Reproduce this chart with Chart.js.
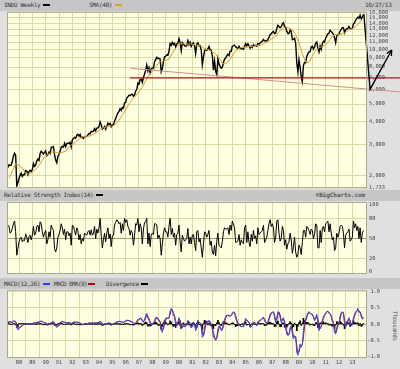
<!DOCTYPE html>
<html>
<head>
<meta charset="utf-8">
<script src="https://cdn.jsdelivr.net/npm/chart.js@4.4.1/dist/chart.umd.min.js"></script>
<style>
  body { margin: 0; width: 400px; height: 369px; background: #e0e0e0; position: relative; overflow: hidden; font-family: "DejaVu Sans Mono", monospace; }
  .band { position: absolute; left: 0; width: 400px; height: 11px; background: #c6c6c6; }
  .txt { position: absolute; font-size: 6px; line-height: 6px; letter-spacing: -0.3px; color: #333; white-space: nowrap; }
  .mark { position: absolute; width: 7px; height: 2px; }
  canvas { position: absolute; left: 0; top: 0; }
</style>
</head>
<body>
<div class="band" style="top:0"></div>
<div class="band" style="top:190px"></div>
<div class="band" style="top:278px"></div>

<div class="txt" style="left:4px;top:2px">INDU Weekly</div>
<div class="mark" style="left:43px;top:4px;background:#000"></div>
<div class="txt" style="left:89px;top:2px">SMA(40)</div>
<div class="mark" style="left:115px;top:4px;background:#e0a020"></div>
<div class="txt" style="left:365px;top:2px">10/27/13</div>

<div class="txt" style="left:4px;top:192px">Relative Strength Index(14)</div>
<div class="mark" style="left:96px;top:194px;background:#000"></div>
<div class="txt" style="right:35px;top:192px;font-weight:bold;letter-spacing:-0.1px;color:#555">©BigCharts.com</div>

<div class="txt" style="left:4px;top:281px">MACD(12,26)</div>
<div class="mark" style="left:43px;top:283px;background:#2040ff"></div>
<div class="txt" style="left:54px;top:281px;letter-spacing:-0.6px">MACD EMA(9)</div>
<div class="mark" style="left:88px;top:283px;background:#c00000"></div>
<div class="txt" style="left:106px;top:281px">Divergence</div>
<div class="mark" style="left:141px;top:283px;background:#000"></div>
<div class="txt" style="left:380px;top:323px;width:30px;text-align:center;transform:rotate(90deg);color:#555">Thousands</div>

<canvas id="price" width="400" height="369"></canvas>
<canvas id="rsi" width="400" height="369"></canvas>
<canvas id="macd" width="400" height="369"></canvas>

<script>
// monthly values, first point = end of Feb 1987
const monthFirst = 1987 + 2 / 12;

// INDU weekly (read as month-end levels, spikes kept at the weekly lows)
const dowClose = [
  2224, 2305, 2286, 2292, 2419, 2572, 2663, 2596, 1760, 1834, 1939,
  2015, 2072, 1988, 2032, 2031, 2142, 2129, 2032, 2112, 2149, 2115, 2169,
  2342, 2258, 2294, 2419, 2480, 2440, 2661, 2737, 2693, 2645, 2706, 2753,
  2591, 2627, 2707, 2657, 2877, 2881, 2905, 2614, 2453, 2365, 2560, 2634,
  2736, 2882, 2914, 2888, 3028, 2907, 3025, 3044, 3017, 3069, 2895, 3169,
  3224, 3268, 3236, 3359, 3397, 3319, 3394, 3257, 3272, 3226, 3305, 3301,
  3310, 3370, 3435, 3428, 3527, 3516, 3540, 3651, 3555, 3681, 3684, 3754,
  3978, 3832, 3636, 3682, 3758, 3625, 3765, 3913, 3843, 3908, 3739, 3834,
  3844, 4011, 4158, 4321, 4465, 4556, 4709, 4611, 4789, 4756, 5075, 5117,
  5395, 5486, 5588, 5569, 5643, 5655, 5529, 5616, 5882, 6029, 6522, 6448,
  6813, 6877, 6584, 7009, 7331, 7673, 8223, 7622, 7945, 7442, 7823, 7908,
  7907, 8546, 8800, 9063, 8900, 8952, 8883, 7539, 7843, 8592, 9117, 9181,
  9359, 9307, 9786, 10789, 10560, 10971, 10655, 10829, 10337, 10729, 10878, 11497,
  10941, 9862, 10922, 10734, 10522, 10448, 10522, 11215, 10651, 10971, 10415, 10787,
  10887, 10495, 9500, 10735, 10912, 10502, 10523, 9950, 8236, 9075, 9852, 10022,
  9920, 10106, 10404, 9946, 9925, 9243, 7702, 8664, 7592, 7286, 8896, 8342,
  8054, 7891, 7992, 8480, 8850, 8985, 9234, 9415, 9275, 9801, 9782, 10454,
  10488, 10584, 10358, 10226, 10188, 10435, 10140, 10174, 10080, 10027, 10428, 10783,
  10490, 10766, 10504, 10193, 10467, 10275, 10641, 10482, 10569, 10440, 10806, 10718,
  10865, 10993, 11109, 11367, 11168, 11150, 11186, 11381, 11679, 12081, 12222, 12463,
  12622, 12269, 12354, 13063, 13628, 13409, 13212, 13358, 13896, 14100, 13372, 13265,
  12650, 12266, 12263, 12820, 12638, 11350, 11378, 11544, 10851, 8451, 7552, 8776,
  8001, 7063, 6626, 8168, 8500, 8447, 9172, 9496, 9712, 9713, 10345, 10428,
  10067, 10325, 10857, 11009, 10137, 9686, 10466, 10015, 10788, 11118, 11006, 11578,
  11892, 12226, 12320, 12811, 12570, 12414, 12143, 11614, 10913, 11955, 12046, 12218,
  12633, 12952, 13212, 13214, 12393, 12880, 13009, 13091, 13437, 13096, 13026, 13104,
  13861, 14054, 14579, 14840, 15116, 14910, 15500, 14810, 15130, 15570
];

// SMA(40), quarter ends from Mar 1987
const smaFirst = 1987.25;
const sma40 = [
  1950, 2120, 2340, 2290,  2210, 2065, 2050, 2090,  2174, 2278, 2449, 2583,
  2656, 2714, 2707, 2673,  2702, 2744, 2908, 2996,  3085, 3195, 3290, 3307,
  3319, 3369, 3463, 3577,  3683, 3718, 3779, 3770,  3864, 4068, 4330, 4656,
  5008, 5307, 5548, 5848,  6196, 6717, 7253, 7556,  7989, 8529, 8634, 8687,
  8856, 9551, 10177, 10703,  10791, 10714, 10758, 10719,  10627, 10523, 10352, 10030,
  9920, 9734, 9456, 9015,  8381, 8348, 8652, 9227,  9838, 10159, 10313, 10284,
  10383, 10401, 10517, 10510,  10690, 10919, 11162, 11581,  11841, 12579, 13047, 13366,
  13179, 12862, 12103, 10900,  9473, 8557, 8494, 9159,  9856, 10237, 10387, 10675,
  11118, 11872, 12048, 12100,  12210, 12442, 12904, 13046,  13414, 14002, 14590
];

// RSI(14), monthly
const rsi14 = [
  70, 68, 58, 60, 65, 72, 76, 60, 25, 35, 45,
  50, 52, 45, 48, 47, 57, 52, 44, 53, 55, 48, 55,
  68, 55, 58, 68, 70, 60, 75, 72, 60, 52, 58, 62,
  42, 48, 60, 52, 70, 65, 62, 35, 30, 36, 52, 56,
  62, 72, 66, 56, 64, 48, 60, 60, 54, 58, 40, 70,
  68, 62, 55, 66, 62, 48, 56, 42, 50, 46, 58, 56,
  55, 60, 62, 55, 63, 55, 57, 68, 50, 64, 58, 66,
  80, 55, 36, 48, 58, 45, 58, 66, 50, 57, 38, 54,
  55, 70, 74, 78, 76, 72, 74, 58, 72, 62, 80, 74,
  78, 68, 65, 55, 62, 58, 40, 55, 72, 70, 80, 60,
  72, 66, 42, 64, 74, 75, 80, 42, 58, 38, 55, 58,
  56, 72, 72, 70, 50, 55, 50, 25, 42, 58, 66, 60,
  60, 52, 68, 80, 56, 65, 52, 58, 40, 56, 58, 70,
  45, 30, 55, 50, 46, 48, 50, 65, 42, 52, 42, 55,
  56, 44, 32, 60, 62, 45, 50, 36, 22, 42, 60, 58,
  52, 56, 62, 40, 46, 30, 26, 40, 24, 46, 58, 40,
  38, 36, 45, 60, 66, 64, 64, 66, 56, 70, 62, 76,
  72, 66, 44, 45, 46, 56, 40, 48, 44, 42, 66, 70,
  44, 60, 44, 38, 56, 46, 62, 50, 54, 42, 66, 56,
  58, 60, 62, 70, 44, 48, 52, 62, 72, 78, 68, 72,
  66, 44, 52, 76, 78, 58, 46, 50, 68, 62, 40, 48,
  34, 42, 45, 58, 48, 28, 38, 52, 30, 22, 26, 40,
  36, 26, 44, 62, 62, 52, 68, 66, 62, 56, 64, 62,
  50, 56, 72, 70, 36, 36, 62, 44, 66, 68, 60, 72,
  74, 76, 60, 72, 58, 48, 52, 32, 36, 58, 52, 58,
  68, 70, 68, 58, 36, 55, 58, 60, 64, 46, 48, 52,
  76, 66, 72, 62, 68, 50, 66, 44, 58, 62
];

// MACD(12,26) in thousands, monthly
const macdLine = [
  .06, .08, .07, .05, .06, .09, .11, .06, -.10, -.18, -.12,
  -.08, -.05, -.03, -.01, .00, .01, .02, .00, .01, .02, .01, .01,
  .04, .04, .03, .05, .07, .06, .08, .10, .08, .04, .03, .04,
  .00, -.02, .01, .00, .05, .07, .08, .01, -.07, -.10, -.06, -.02,
  .02, .08, .09, .06, .06, .04, .04, .05, .04, .04, .00, .04,
  .07, .07, .05, .06, .06, .03, .03, .00, -.01, -.02, .00, .01,
  .01, .02, .04, .03, .04, .04, .03, .05, .03, .04, .05, .06,
  .09, .06, -.02, -.03, .00, -.02, .01, .04, .03, .03, -.02, -.01,
  .00, .03, .05, .07, .08, .08, .09, .06, .06, .05, .09, .10,
  .12, .12, .11, .08, .07, .06, .00, .00, .05, .09, .15, .15,
  .18, .18, .08, .06, .15, .25, .33, .18, .12, .02, -.03, .02,
  .02, .12, .20, .22, .15, .10, .05, -.20, -.25, -.10, .10, .18,
  .20, .16, .20, .40, .48, .42, .28, .22, .00, -.05, .06, .20,
  .08, -.15, -.10, -.02, -.08, -.06, -.02, .12, .06, .00, -.12, -.05,
  .05, .00, -.20, -.10, .10, .05, .02, -.08, -.40, -.35, -.10, .06,
  .10, .05, .12, .05, -.03, -.15, -.40, -.42, -.50, -.40, -.15, -.05,
  -.10, -.20, -.15, .02, .15, .22, .28, .27, .24, .25, .28, .35,
  .38, .35, .18, .08, -.02, -.02, -.06, -.08, -.06, -.08, .06, .18,
  .10, .08, .05, -.10, -.08, -.03, .05, .04, .02, -.05, .08, .10,
  .12, .15, .18, .22, .10, .05, .02, .08, .18, .30, .35, .36,
  .38, .20, .05, .20, .38, .36, .20, .05, .15, .20, .00, -.12,
  -.30, -.35, -.30, -.10, -.05, -.30, -.45, -.35, -.40, -.85, -.95, -.80,
  -.60, -.70, -.60, -.20, .05, .15, .25, .35, .38, .32, .30, .30,
  .20, .10, .20, .30, .05, -.20, -.10, -.05, .10, .25, .28, .35,
  .38, .40, .32, .32, .22, .08, .02, -.25, -.30, -.10, .00, .05,
  .25, .35, .38, .32, -.02, -.10, .05, .12, .20, .05, -.05, .00,
  .20, .30, .38, .40, .48, .35, .38, .22, .15, .20
];

// MACD EMA(9), monthly
const macdSignal = [
  .05, .06, .07, .06, .06, .07, .09, .08, .00, -.10, -.13,
  -.10, -.07, -.05, -.02, -.01, .00, .01, .01, .01, .01, .01, .01,
  .02, .04, .04, .04, .05, .06, .07, .08, .08, .06, .04, .04,
  .02, .00, .00, .00, .02, .05, .07, .04, -.02, -.07, -.07, -.04,
  -.01, .04, .07, .07, .06, .05, .04, .04, .04, .04, .02, .03,
  .05, .06, .06, .06, .06, .04, .03, .02, .00, -.01, -.01, .00,
  .01, .01, .03, .03, .03, .04, .03, .04, .04, .04, .04, .05,
  .07, .07, .02, -.01, -.01, -.01, .00, .02, .03, .03, .01, -.01,
  .00, .02, .04, .06, .07, .08, .08, .07, .06, .06, .07, .09,
  .10, .11, .11, .10, .08, .07, .03, .01, .03, .06, .11, .14,
  .16, .17, .12, .08, .11, .19, .28, .24, .16, .08, .01, .00,
  .01, .07, .14, .19, .18, .13, .08, -.05, -.18, -.15, .00, .12,
  .18, .18, .18, .30, .42, .44, .35, .25, .10, -.02, .01, .12,
  .12, -.02, -.10, -.06, -.06, -.06, -.04, .04, .08, .03, -.06, -.08,
  .00, .02, -.10, -.13, .00, .06, .04, -.03, -.24, -.36, -.22, -.03,
  .07, .07, .09, .08, .01, -.09, -.26, -.40, -.45, -.44, -.27, -.10,
  -.08, -.15, -.17, -.06, .08, .18, .25, .27, .26, .25, .26, .31,
  .35, .36, .26, .13, .03, -.02, -.04, -.07, -.07, -.07, .00, .12,
  .13, .09, .06, -.03, -.08, -.05, .01, .04, .03, -.02, .03, .08,
  .11, .13, .16, .20, .15, .08, .04, .05, .13, .24, .32, .35,
  .37, .28, .12, .13, .29, .36, .28, .12, .11, .17, .09, -.06,
  -.21, -.32, -.32, -.18, -.08, -.18, -.37, -.38, -.38, -.65, -.88, -.85,
  -.70, -.66, -.63, -.38, -.06, .10, .20, .30, .36, .35, .31, .30,
  .24, .15, .16, .25, .15, -.07, -.14, -.08, .03, .18, .26, .31,
  .36, .39, .35, .32, .26, .14, .05, -.12, -.27, -.18, -.05, .03,
  .16, .30, .36, .35, .12, -.06, -.02, .08, .16, .12, .00, -.02,
  .10, .25, .34, .39, .44, .40, .37, .29, .19, .18
];

// Divergence bars, monthly
const macdDiv = [
  .01, .02, .00, -.01, .00, .02, .02, -.02, -.10, -.08, .01,
  .02, .02, .02, .01, .01, .01, .01, -.01, .00, .01, .00, .00,
  .02, .00, -.01, .01, .02, .00, .01, .02, .00, -.02, -.01, .00,
  -.02, -.02, .01, .00, .03, .02, .01, -.03, -.05, -.03, .01, .02,
  .03, .04, .02, -.01, .00, -.01, .00, .01, .00, .00, -.02, .01,
  .02, .01, -.01, .00, .00, -.01, .00, -.02, -.01, -.01, .01, .01,
  .00, .01, .01, .00, .01, .00, .00, .01, -.01, .00, .01, .01,
  .02, -.01, -.04, -.02, .01, -.01, .01, .02, .00, .00, -.03, .00,
  .00, .01, .01, .01, .01, .00, .01, -.01, .00, -.01, .02, .01,
  .02, .01, .00, -.02, -.01, -.01, -.03, -.01, .02, .03, .04, .01,
  .02, .01, -.04, -.02, .04, .06, .05, -.06, -.04, -.06, -.04, .02,
  .01, .05, .06, .03, -.03, -.03, -.03, -.15, -.07, .05, .10, .06,
  .02, -.02, .02, .10, .06, -.02, -.07, -.03, -.10, -.03, .05, .08,
  -.04, -.13, .00, .04, -.02, .00, .02, .08, -.02, -.03, -.06, .03,
  .05, -.02, -.10, .03, .10, -.01, -.02, -.05, -.16, .01, .12, .09,
  .03, -.02, .03, -.03, -.04, -.06, -.14, -.02, -.05, .04, .12, .05,
  -.02, -.05, .02, .08, .07, .04, .03, .00, -.02, .00, .02, .04,
  .03, -.01, -.08, -.05, -.05, .00, -.02, -.01, .01, -.01, .06, .06,
  -.03, -.01, -.01, -.07, .00, .02, .04, .00, -.01, -.03, .05, .02,
  .01, .02, .02, .02, -.05, -.03, -.02, .03, .05, .06, .03, .01,
  .01, -.08, -.07, .07, .09, .00, -.08, -.07, .04, .03, -.09, -.06,
  -.09, -.03, .02, .08, .03, -.12, -.08, .03, -.02, -.20, -.07, .05,
  .10, -.04, .03, .18, .11, .05, .05, .05, .02, -.03, -.01, .00,
  -.04, -.05, .04, .05, -.10, -.13, .04, .03, .07, .07, .02, .04,
  .02, .01, -.03, .00, -.04, -.06, -.03, -.13, -.03, .08, .05, .02,
  .09, .05, .02, -.03, -.14, -.04, .07, .04, .04, -.07, -.05, .02,
  .10, .05, .04, .01, .04, -.05, .01, -.07, -.04, .02
];

// tick labels
const firstYear = 1988;
const yearLabels = ['88', '89', '90', '91', '92', '93', '94', '95', '96', '97', '98', '99', '00',
  '01', '02', '03', '04', '05', '06', '07', '08', '09', '10', '11', '12', '13'];
const priceTicks = [16000, 15000, 14000, 13000, 12000, 11000, 10000, 9000, 8000, 7000, 6000, 5000, 4000, 3000, 2000, 1733];
const rsiTicks = [100, 80, 50, 20, 0];
const macdTicks = [1.0, 0.5, 0.0, -0.5, -1.0];

// hand drawn lines on the price pane (year, price)
const supportX = [1996.3, 2016.6];
const supportY = [6970, 6970];
const trendX = [1996.4, 2016.6];
const trendY = [7880, 5830];
const arrowX = [2013.86, 2014.33, 2015.95];
const arrowY = [15800, 6030, 9950];

const gridCol = 'rgb(218,218,164)';
const gridDark = 'rgb(158,158,110)';
const tickFont = { family: 'DejaVu Sans Mono', size: 5.3 };
const tickCol = '#444';

function pts(values, start, step) {
  return values.map((v, i) => ({ x: start + i * step, y: v }));
}

// pale yellow plot area with frame
const plotFrame = {
  id: 'plotFrame',
  beforeDraw(chart) {
    const { ctx, chartArea: a } = chart;
    ctx.save();
    ctx.fillStyle = '#ffffe2';
    ctx.fillRect(a.left, a.top, a.width, a.height);
    ctx.restore();
  },
  afterDraw(chart) {
    const { ctx, chartArea: a } = chart;
    ctx.save();
    ctx.strokeStyle = '#a9a984';
    ctx.lineWidth = 1;
    ctx.strokeRect(a.left - 0.5, a.top - 0.5, a.width + 1, a.height + 1);
    ctx.restore();
  }
};

// support, trend and projection arrow
const drawLines = {
  id: 'drawLines',
  afterDatasetsDraw(chart) {
    const { ctx, scales: { x, y } } = chart;
    const line = (xs, ys, color, w) => {
      ctx.beginPath();
      xs.forEach((v, i) => {
        const px = x.getPixelForValue(v), py = y.getPixelForValue(ys[i]);
        if (i === 0) ctx.moveTo(px, py); else ctx.lineTo(px, py);
      });
      ctx.strokeStyle = color;
      ctx.lineWidth = w;
      ctx.stroke();
    };
    ctx.save();
    line(trendX, trendY, 'rgb(214,140,140)', 1);
    line(supportX, supportY, 'rgb(170,30,30)', 1.2);
    line(arrowX, arrowY, '#000', 1.4);
    // arrow head
    const n = arrowX.length;
    const x1 = x.getPixelForValue(arrowX[n - 2]), y1 = y.getPixelForValue(arrowY[n - 2]);
    const x2 = x.getPixelForValue(arrowX[n - 1]), y2 = y.getPixelForValue(arrowY[n - 1]);
    const ang = Math.atan2(y2 - y1, x2 - x1);
    ctx.beginPath();
    ctx.moveTo(x2, y2);
    ctx.lineTo(x2 - 6 * Math.cos(ang - 0.45), y2 - 6 * Math.sin(ang - 0.45));
    ctx.moveTo(x2, y2);
    ctx.lineTo(x2 - 6 * Math.cos(ang + 0.45), y2 - 6 * Math.sin(ang + 0.45));
    ctx.stroke();
    ctx.restore();
  }
};

function xAxis(showLabels) {
  return {
    type: 'linear', min: 1987.175, max: 2014.025,
    afterBuildTicks: s => { s.ticks = yearLabels.map((l, i) => ({ value: firstYear + i })); },
    afterFit: s => { s.height = showLabels ? 12 : 0; },
    grid: { color: gridCol, drawTicks: false },
    border: { display: false },
    ticks: {
      display: showLabels, padding: 2, font: tickFont, color: tickCol,
      maxRotation: 0, autoSkip: false, callback: (v, i) => yearLabels[i]
    }
  };
}

function baseOptions(padding, scales) {
  return {
    responsive: false,
    animation: false,
    layout: { padding: padding, autoPadding: false },
    elements: { point: { radius: 0 }, line: { tension: 0 } },
    plugins: { legend: { display: false }, tooltip: { enabled: false } },
    scales: scales
  };
}

Chart.defaults.font.family = 'DejaVu Sans Mono';

new Chart(document.getElementById('price'), {
  type: 'line',
  data: {
    datasets: [
      { label: 'SMA(40)', data: pts(sma40, smaFirst, 0.25), borderColor: '#d99b30', borderWidth: 1 },
      { label: 'INDU Weekly', data: pts(dowClose, monthFirst, 1 / 12), borderColor: '#000', borderWidth: 1.4 }
    ]
  },
  options: baseOptions({ left: 8, top: 12.7, right: 0, bottom: 181.8 }, {
    x: xAxis(false),
    y: {
      type: 'logarithmic', position: 'right', min: 1733, max: 16000,
      afterBuildTicks: s => { s.ticks = priceTicks.map(v => ({ value: v })); },
      afterFit: s => { s.width = 34; },
      grid: { color: c => (c.tick && c.tick.value === 1733) ? 'rgba(0,0,0,0)' : gridCol, drawTicks: false },
      border: { display: false },
      ticks: { padding: 3, font: tickFont, color: tickCol, callback: v => Number(v).toLocaleString('en-US') }
    }
  }),
  plugins: [plotFrame, drawLines]
});

new Chart(document.getElementById('rsi'), {
  type: 'line',
  data: {
    datasets: [
      { label: 'RSI(14)', data: pts(rsi14, monthFirst, 1 / 12), borderColor: '#000', borderWidth: 1 }
    ]
  },
  options: baseOptions({ left: 8, top: 203, right: 0, bottom: 96 }, {
    x: xAxis(false),
    y: {
      type: 'linear', position: 'right', min: -1.5, max: 103,
      afterBuildTicks: s => { s.ticks = rsiTicks.map(v => ({ value: v })); },
      afterFit: s => { s.width = 34; },
      grid: {
        color: c => {
          const v = c.tick ? c.tick.value : null;
          if (v === 50) return gridDark;
          if (v === 80 || v === 20) return gridCol;
          return 'rgba(0,0,0,0)';
        },
        drawTicks: false
      },
      border: { display: false },
      ticks: { padding: 3, font: tickFont, color: tickCol }
    }
  }),
  plugins: [plotFrame]
});

new Chart(document.getElementById('macd'), {
  type: 'line',
  data: {
    datasets: [
      { label: 'MACD(12,26)', data: pts(macdLine, monthFirst, 1 / 12), borderColor: '#2a48ff', borderWidth: 1 },
      { label: 'MACD EMA(9)', data: pts(macdSignal, monthFirst, 1 / 12), borderColor: '#c00000', borderWidth: 1 },
      {
        type: 'bar', label: 'Divergence', data: pts(macdDiv, monthFirst, 1 / 12),
        backgroundColor: '#000', barThickness: 1, grouped: false
      }
    ]
  },
  options: baseOptions({ left: 8, top: 291.3, right: 20, bottom: 0 }, {
    x: Object.assign(xAxis(true), { offset: false }),
    y: {
      type: 'linear', position: 'right', min: -1, max: 1,
      afterBuildTicks: s => { s.ticks = macdTicks.map(v => ({ value: v })); },
      afterFit: s => { s.width = 14; },
      grid: {
        color: c => {
          const v = c.tick ? c.tick.value : null;
          if (v === 0) return gridDark;
          if (v === 0.5 || v === -0.5) return gridCol;
          return 'rgba(0,0,0,0)';
        },
        drawTicks: false
      },
      border: { display: false },
      ticks: { crossAlign: 'far', padding: 0, font: tickFont, color: tickCol, callback: v => Number(v).toFixed(1) }
    }
  }),
  plugins: [plotFrame]
});
</script>
</body>
</html>
